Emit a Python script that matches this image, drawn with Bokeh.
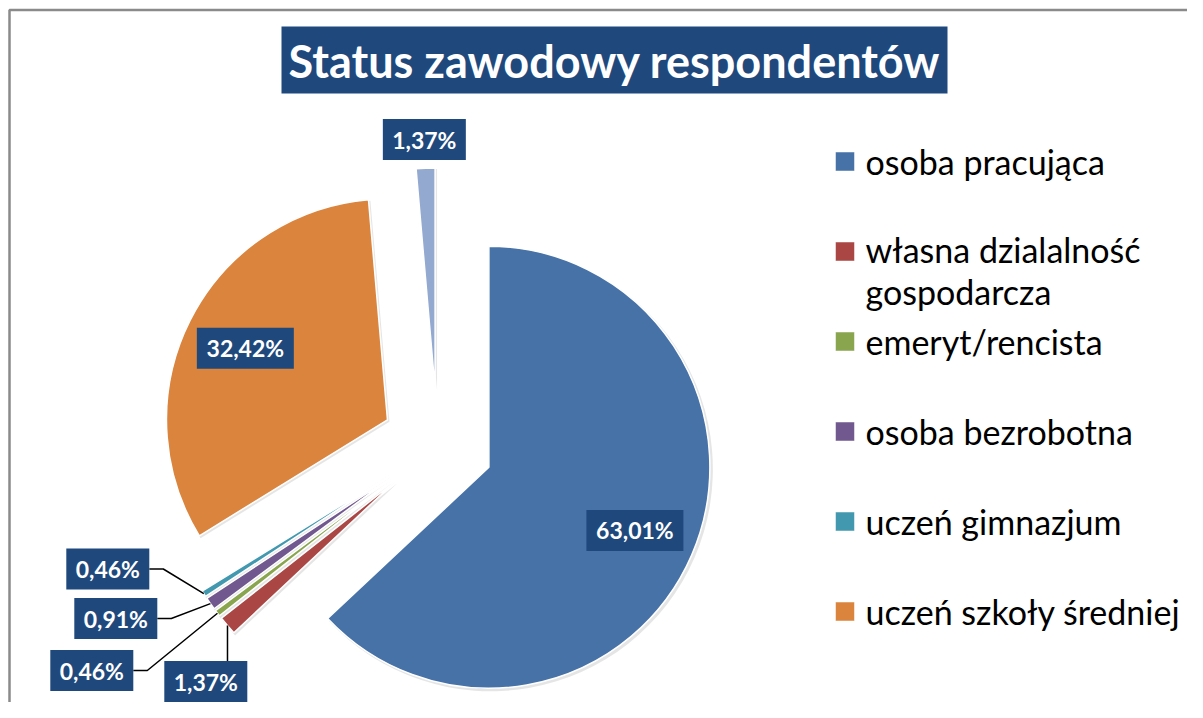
import math
from bokeh.plotting import figure
from bokeh.models import Range1d, ColumnDataSource
from bokeh.core.properties import value
from bokeh.embed import file_html
from bokeh.resources import INLINE

# ---------------- data ----------------
title = "Status zawodowy respondentów"
categories = ["osoba pracująca", "własna dzialalność gospodarcza", "emeryt/rencista",
              "osoba bezrobotna", "uczeń gimnazjum", "uczeń szkoły średniej", "pozostali"]
values = [63.01, 1.37, 0.46, 0.91, 0.46, 32.42, 1.37]
colors = ["#4672A7", "#AA4643", "#89A54E", "#71588F", "#4198AF", "#DB843D", "#93A9CF"]
legend_labels = ["osoba pracująca", "własna dzialalność\ngospodarcza", "emeryt/rencista",
                 "osoba bezrobotna", "uczeń gimnazjum", "uczeń szkoły średniej"]

# ---------------- layout / style ----------------
W, H = 1187, 702
CX, CY = 437.0, -444.5        # pie centre (px, y downward negated)
R = 221.0
EXPLODE = 56.0
BOX_COLOR = "#1F497D"
FONT = "Lato"

p = figure(width=W, height=H, x_range=Range1d(0, W), y_range=Range1d(-H, 0),
           output_backend="svg", toolbar_location=None, min_border=0,
           x_axis_location=None, y_axis_location=None)
p.outline_line_color = None
p.grid.visible = False
p.background_fill_color = "white"
p.border_fill_color = "white"

# chart border (cropped frame: left & top visible)
p.line(x=[9, 9, W + 5], y=[-H - 5, -9.5, -9.5], line_color="#8A8A8A", line_width=2.5)

# ---------------- pie geometry ----------------
total = sum(values)
cum = 0.0
xs, ys, sa, ea, dirs, tips = [], [], [], [], [], []
for v in values:
    t0 = cum / total * 360.0
    t1 = (cum + v) / total * 360.0
    cum += v
    mid = math.radians((t0 + t1) / 2.0)
    dx, dy = math.sin(mid), math.cos(mid)
    cx, cy = CX + EXPLODE * dx, CY + EXPLODE * dy
    xs.append(cx); ys.append(cy)
    sa.append(math.radians(90.0 - t1)); ea.append(math.radians(90.0 - t0))
    dirs.append((dx, dy))
    tips.append((cx + R * dx, cy + R * dy))

# soft shadow
p.wedge(x=[x + 2 for x in xs], y=[y - 2 for y in ys], radius=R + 1,
        start_angle=sa, end_angle=ea, direction="anticlock",
        fill_color="black", fill_alpha=0.10, line_color=None)

src = ColumnDataSource(dict(x=xs, y=ys, start=sa, end=ea, color=colors, name=categories))
p.wedge(x="x", y="y", radius=R, start_angle="start", end_angle="end",
        direction="anticlock", fill_color="color", line_color="white",
        line_width=1.5, source=src)

# ---------------- data labels ----------------
label_texts = [("%.2f" % v).replace(".", ",") + "%" for v in values]
# manual label placement for the thin slices (px)
manual = {1: (205.3, -681.0), 2: (91.3, -670.0), 3: (115.3, -618.0), 4: (107.3, -568.5)}
lx, ly, lw = [], [], []
for i, t in enumerate(label_texts):
    dx, dy = dirs[i]
    if i in manual:
        x, y = manual[i]
    elif i == 6:
        x, y = xs[i] + 1.13 * R * dx, ys[i] + 1.13 * R * dy
    else:
        x, y = xs[i] + 0.72 * R * dx, ys[i] + 0.72 * R * dy
    lx.append(x); ly.append(y); lw.append(14 * len(t) + 13)

# leader lines
lead_x, lead_y = [], []
for i in manual:
    tx, ty = tips[i]
    x, y = lx[i], ly[i]
    if i == 1:
        lead_x.append([tx, tx]); lead_y.append([y + 20.5, ty])
    else:
        ex = x + lw[i] / 2.0
        lead_x.append([ex, ex + 14, tx]); lead_y.append([y, y, ty])
p.multi_line(xs=lead_x, ys=lead_y, line_color="black", line_width=1.5)

p.rect(x=lx, y=ly, width=lw, height=41, fill_color=BOX_COLOR, line_color=None)
p.text(x=lx, y=ly, text=label_texts, text_color="white", text_font=value(FONT),
       text_font_style="bold", text_font_size="23px", text_align="center",
       text_baseline="middle")

# ---------------- title ----------------
p.rect(x=[614], y=[-59.5], width=666, height=67, fill_color=BOX_COLOR, line_color=None)
p.text(x=[614], y=[-60], text=[title], text_color="white", text_font=value(FONT),
       text_font_style="bold", text_font_size="45px", text_align="center",
       text_baseline="middle")

# ---------------- legend ----------------
leg_y = [-161, -270, -341, -431, -521, -611]
sq_y = [-161, -251, -341, -431, -521, -611]
p.rect(x=[844.5] * 6, y=sq_y, width=19, height=19, fill_color=colors[:6],
       line_color="white", line_width=0.5)
p.text(x=[865] * 6, y=leg_y, text=legend_labels, text_color="black",
       text_font=value(FONT), text_font_size="34px", text_align="left",
       text_baseline="middle", text_line_height=1.02)

open("out.html", "w").write(file_html(p, INLINE))
